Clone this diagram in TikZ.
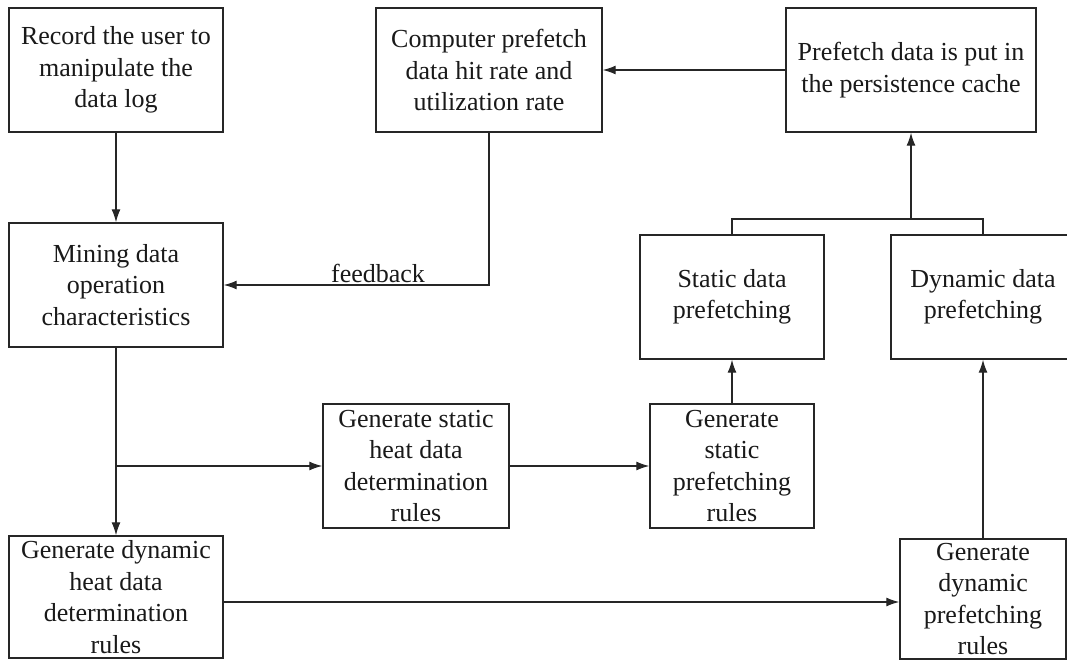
\documentclass[tikz,border=0pt]{standalone}
\usepackage{fontspec}
\setmainfont{Liberation Serif}
\usetikzlibrary{arrows.meta}
\begin{document}
\begin{tikzpicture}[x=1pt,y=-1pt,
  box/.style={draw=black!85,line width=1.4pt,rectangle,inner sep=0pt,align=center,
    font=\fontsize{26}{31.5}\selectfont,text=black!90},
  conn/.style={draw=black!85,line width=1.3pt},
  arr/.style={conn,-{Latex[length=13pt,width=9pt]}}]
\useasboundingbox (0,0) rectangle (1067,660);
\clip (0,0) rectangle (1067,660);
\fill[white] (0,0) rectangle (1067,660);
\node[box,minimum width=214pt,minimum height=124pt] (b1) at (116,70) {Record the user to\\manipulate the\\data log};
\node[box,minimum width=226pt,minimum height=124pt] (b2) at (489,70) {Computer prefetch\\data hit rate and\\utilization rate};
\node[box,minimum width=250pt,minimum height=124pt] (b3) at (911,70) {Prefetch data is put in\\the persistence cache};
\node[box,minimum width=214pt,minimum height=124pt] (b4) at (116,285) {Mining data\\operation\\characteristics};
\node[box,minimum width=184pt,minimum height=124pt] (b5) at (732,297) {Static data\\prefetching};
\node[box,minimum width=184pt,minimum height=124pt] (b6) at (983,297) {Dynamic data\\prefetching};
\node[box,minimum width=186pt,minimum height=124pt] (b7) at (416,466) {Generate static\\heat data\\determination\\rules};
\node[box,minimum width=164pt,minimum height=124pt] (b8) at (732,466) {Generate\\static\\prefetching\\rules};
\node[box,minimum width=214pt,minimum height=122pt] (b9) at (116,597) {Generate dynamic\\heat data\\determination\\rules};
\node[box,minimum width=166pt,minimum height=120pt] (b10) at (983,599) {Generate\\dynamic\\prefetching\\rules};
\coordinate (fb) at (489,285);
\coordinate (br) at (116,466);
\coordinate (jn) at (911,219);
\draw[arr] (b1) -- (b4);
\draw[arr] (b2.south) -- (fb) -- (b4.east);
\node[anchor=base,inner sep=0pt,font=\fontsize{26}{31.5}\selectfont,text=black!90] (fbl) at (378,282) {feedback};
\draw[arr] (b3) -- (b2);
\draw[arr] (b4.south) -- (b9.north);
\draw[arr] (br) -- (b7.west);
\draw[arr] (b7) -- (b8);
\draw[arr] (b8) -- (b5);
\draw[arr] (b9.east |- 0,602) -- (b10.west |- 0,602);
\draw[arr] (b10.north) -- (b6.south);
\draw[conn] (b5.north) -- (b5.north |- jn) -- (b6.north |- jn) -- (b6.north);
\draw[arr] (jn) -- (b3.south);
\end{tikzpicture}
\end{document}
